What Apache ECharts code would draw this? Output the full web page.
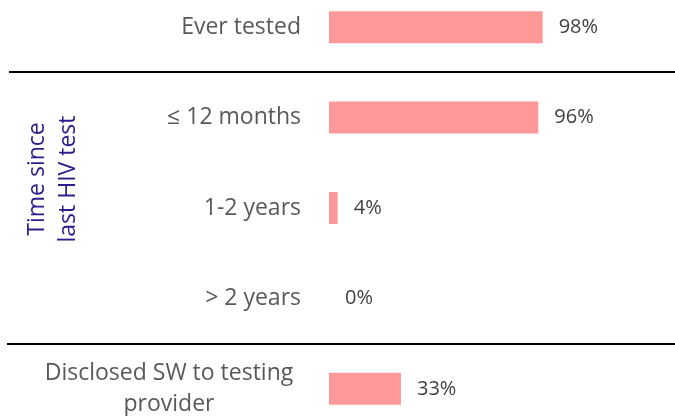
<!DOCTYPE html>
<html>
<head>
<meta charset="utf-8">
<script src="https://cdn.jsdelivr.net/npm/echarts@6/dist/echarts.min.js"></script>
<style>
    html, body { margin: 0; padding: 0; background: #fff; }
    #chart { width: 675px; height: 416px; }
</style>
</head>
<body>
<div id="chart"></div>
<script>
// categories, top to bottom
const categories = [
    "Ever tested",
    "≤ 12 months",
    "1-2 years",
    "> 2 years",
    "Disclosed SW to testing\nprovider",
];
// percent of respondents
const values = [98, 96, 4, 0, 33];
const groupTitle = "Time since\nlast HIV test";

const font = "Open Sans";
const myChart = echarts.init(document.getElementById("chart"));

const option = {
    animation: false,
    grid: {
        left: 329,
        right: 128,
        top: -18,
        bottom: -18,
        outerBoundsMode: "none",
        containLabel: false,
    },
    xAxis: {
        type: "value",
        min: 0,
        max: 100,
        show: false,
    },
    yAxis: {
        type: "category",
        data: categories,
        inverse: true,
        axisLine: { show: false },
        axisTick: { show: false },
        splitLine: { show: false },
        axisLabel: {
            margin: 28,
            fontFamily: font,
            fontSize: 23,
            color: "#595959",
            formatter: function (v) {
                // the two-line label is centred on itself
                return v.indexOf("\n") >= 0 ? "{c|" + v + "}" : "{r|" + v + "}";
            },
            rich: {
                r: { fontFamily: font, fontSize: 23, color: "#595959" },
                c: {
                    fontFamily: font,
                    fontSize: 23,
                    color: "#595959",
                    lineHeight: 31,
                    width: 264,
                    align: "center",
                },
            },
        },
    },
    series: [
        {
            type: "bar",
            data: values,
            barWidth: 32,
            itemStyle: { color: "#FF9999" },
            label: {
                show: true,
                position: "right",
                distance: 16,
                formatter: "{c}%",
                fontFamily: font,
                fontSize: 20,
                color: "#404040",
            },
        },
    ],
};
myChart.setOption(option);

// separators between groups, placed halfway between neighbouring categories
function midY(a, b) {
    const ya = myChart.convertToPixel({ yAxisIndex: 0 }, categories[a]);
    const yb = myChart.convertToPixel({ yAxisIndex: 0 }, categories[b]);
    return Math.round((ya + yb) / 2);
}
const y1 = midY(0, 1);
const y2 = midY(3, 4);
const yGroup = (myChart.convertToPixel({ yAxisIndex: 0 }, categories[1]) +
    myChart.convertToPixel({ yAxisIndex: 0 }, categories[3])) / 2;

myChart.setOption({
    graphic: [
        {
            type: "line",
            shape: { x1: 9, y1: y1, x2: 675, y2: y1 },
            style: { stroke: "#000", lineWidth: 2 },
        },
        {
            type: "line",
            shape: { x1: 7, y1: y2, x2: 675, y2: y2 },
            style: { stroke: "#000", lineWidth: 2 },
        },
        {
            type: "text",
            x: 53,
            y: yGroup - 29,
            rotation: Math.PI / 2,
            style: {
                text: groupTitle,
                fontFamily: font,
                fontSize: 23,
                lineHeight: 31,
                fill: "#2E1B8C",
                align: "center",
                verticalAlign: "middle",
            },
        },
    ],
});
</script>
</body>
</html>
